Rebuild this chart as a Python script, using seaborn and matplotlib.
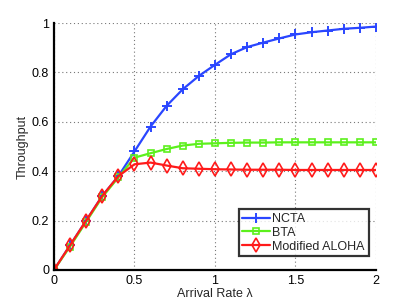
import numpy as np
import pandas as pd
import matplotlib
matplotlib.use("Agg")
import matplotlib.pyplot as plt
import seaborn as sns

# arrival rate values
arrival_rate = [0.0, 0.1, 0.2, 0.3, 0.4, 0.5, 0.6, 0.7, 0.8, 0.9, 1.0,
                1.1, 1.2, 1.3, 1.4, 1.5, 1.6, 1.7, 1.8, 1.9, 2.0]

ncta = [0.0, 0.1, 0.2, 0.3, 0.38, 0.48, 0.581, 0.665, 0.732, 0.786, 0.831,
        0.874, 0.903, 0.921, 0.938, 0.954, 0.963, 0.970, 0.977, 0.981, 0.986]
bta = [0.0, 0.095, 0.195, 0.295, 0.375, 0.455, 0.473, 0.49, 0.504, 0.511, 0.513,
       0.515, 0.516, 0.516, 0.517, 0.517, 0.517, 0.517, 0.517, 0.517, 0.517]
aloha = [0.0, 0.1, 0.2, 0.3, 0.38, 0.428, 0.435, 0.423, 0.412, 0.41, 0.408,
         0.407, 0.406, 0.406, 0.406, 0.405, 0.405, 0.405, 0.405, 0.405, 0.405]

series_names = ["NCTA", "BTA", "Modified ALOHA"]
colors = ["#2a46ff", "#5cf01c", "#ff1a1a"]

df = pd.DataFrame({
    "rate": arrival_rate * 3,
    "throughput": ncta + bta + aloha,
    "scheme": [n for n in series_names for _ in arrival_rate],
})

sns.set_style("white")
plt.rcParams["font.family"] = ["Liberation Sans", "DejaVu Sans"]

fig = plt.figure(figsize=(4.15, 3.04), dpi=100)
ax = fig.add_axes([0.130, 0.112, 0.776, 0.812])

marker_styles = {"NCTA": dict(marker="+", ms=7, mew=1.4, mfc="none"),
                 "BTA": dict(marker="s", ms=5, mew=1.2, mfc="none"),
                 "Modified ALOHA": dict(marker="d", ms=7, mew=1.2, mfc="none")}

for name, col in zip(series_names, colors):
    sub = df[df["scheme"] == name]
    sns.lineplot(data=sub, x="rate", y="throughput", ax=ax, color=col,
                 linewidth=1.6, label=name, mec=col, **marker_styles[name])

ax.set_xlim(0, 2)
ax.set_ylim(0, 1)
ax.set_xticks([0, 0.5, 1, 1.5, 2])
ax.set_xticklabels(["0", "0.5", "1", "1.5", "2"])
ax.set_yticks([0, 0.2, 0.4, 0.6, 0.8, 1])
ax.set_yticklabels(["0", "0.2", "0.4", "0.6", "0.8", "1"])
ax.grid(True, linestyle=(0, (1, 2.5)), color="#777777", linewidth=0.8)
ax.set_axisbelow(True)
for s in ["top", "right"]:
    ax.spines[s].set_visible(False)
for s in ["left", "bottom"]:
    ax.spines[s].set_color("black")
    ax.spines[s].set_linewidth(1.6)
ax.tick_params(direction="in", length=3, labelsize=9, colors="black")
ax.set_xlabel("Arrival Rate λ", fontsize=9, labelpad=1)
ax.set_ylabel("Throughput", fontsize=9, labelpad=2)

leg = ax.legend(loc="lower right", bbox_to_anchor=(0.977, 0.055), fontsize=9,
                frameon=True, fancybox=False, borderpad=0.3, labelspacing=0.15,
                handlelength=2.2, handletextpad=0.2, borderaxespad=0)
leg.get_frame().set_edgecolor("black")
leg.get_frame().set_linewidth(1.6)

fig.savefig("out.png", dpi=100)
